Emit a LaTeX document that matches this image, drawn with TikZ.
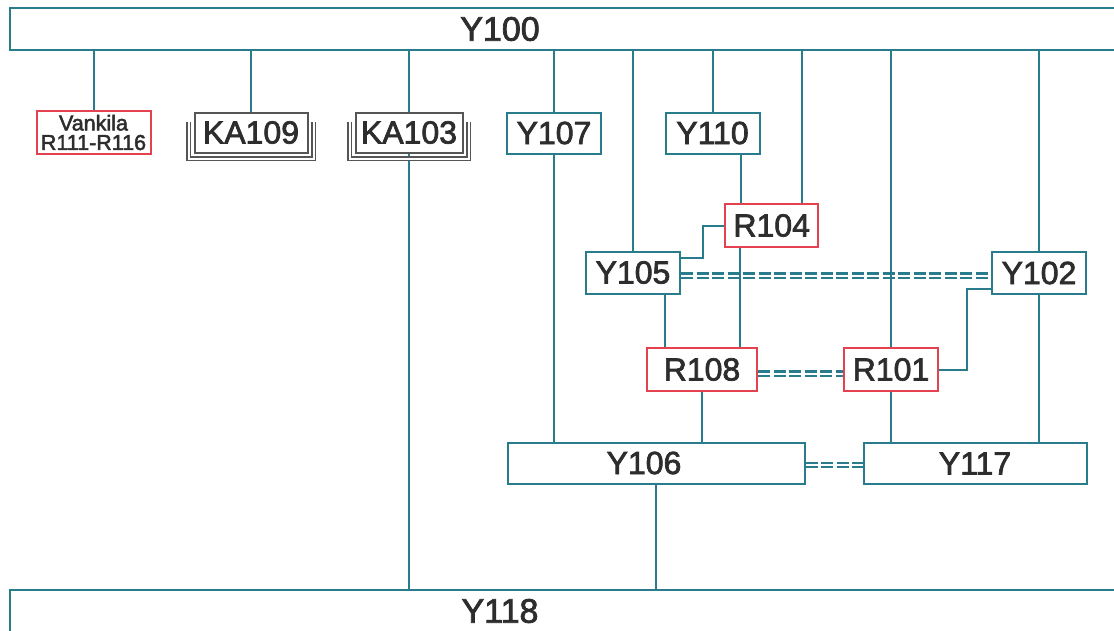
\documentclass[tikz,border=0pt]{standalone}
\usepackage{fontspec}
\setmainfont{Liberation Sans}[FakeBold=2.2]
\usetikzlibrary{calc}
\definecolor{teal1}{RGB}{40,124,140}
\definecolor{red1}{RGB}{228,66,80}
\definecolor{gray1}{RGB}{85,85,85}
\definecolor{txt}{RGB}{45,45,45}
\pgfdeclarelayer{bg}
\pgfsetlayers{bg,main}
\begin{document}
\begin{tikzpicture}[x=1pt,y=-1pt,
  conn/.style={draw=teal1,line width=2pt},
  dbl/.style={draw=teal1,line width=2.2pt,double=white,double distance=2pt,dash pattern=on 12pt off 3.5pt},
  base/.style={line width=2pt,fill=white,inner sep=0pt,text=txt,font=\fontsize{32}{32}\selectfont,minimum height=41pt},
  ybox/.style={base,draw=teal1},
  rbox/.style={base,draw=red1},
  kabox/.style={base,draw=gray1},
  bus/.style={draw=teal1,line width=2.2pt,fill=white,minimum width=1120pt,minimum height=42pt,inner sep=0pt},
  buslabel/.style={font=\fontsize{34}{34}\selectfont,text=txt,xshift=-70pt},
  bracket/.style={draw=gray1,line width=1.3pt,double=white,double distance=2pt}
]
\useasboundingbox (0,0) rectangle (1114,630);
\clip (0,0) rectangle (1114,630);

\node[bus, label={[buslabel]center:Y100}] (Y100) at (570,29) {};
\node[bus, label={[buslabel]center:Y118}] (Y118) at (570,611) {};

\node[rbox, minimum width=114pt, minimum height=43pt, align=center, font=\fontsize{21.5}{19.5}\selectfont] (VK) at (93.5,132.5) {Vankila\\R111-R116};
\node[kabox, minimum width=113pt, minimum height=40pt] (KA109) at (251,132.5) {KA109};
\node[kabox, minimum width=107pt, minimum height=40pt] (KA103) at (409,132.5) {KA103};
\draw[bracket] ($(KA109.north west)+(-5,10)$) |- ($(KA109.south)+(0,5)$) -| ($(KA109.north east)+(5,10)$);
\draw[bracket] ($(KA103.north west)+(-5,10)$) |- ($(KA103.south)+(0,5)$) -| ($(KA103.north east)+(5,10)$);

\node[ybox, minimum width=94pt] (Y107) at (554,133) {Y107};
\node[ybox, minimum width=94pt] (Y110) at (712.5,133) {Y110};
\node[rbox, minimum width=93pt, minimum height=43pt] (R104) at (771.7,225.5) {R104};
\node[ybox, minimum width=94pt, minimum height=42pt] (Y105) at (633,272.5) {Y105};
\node[ybox, minimum width=94pt, minimum height=42pt] (Y102) at (1039,273) {Y102};
\node[rbox, minimum width=110pt, minimum height=43pt] (R108) at (702,369.5) {R108};
\node[rbox, minimum width=94pt, minimum height=43pt] (R101) at (891,369.5) {R101};
\node[ybox, minimum width=297pt, minimum height=41pt] (Y106) at (656,463) {\hspace*{-24pt}Y106};
\node[ybox, minimum width=223pt, minimum height=41pt] (Y117) at (975,463.5) {Y117};

\begin{pgfonlayer}{bg}
\draw[conn] (VK.north |- Y100.south) -- (VK.north);
\draw[conn] (KA109.north |- Y100.south) -- (KA109.north);
\draw[conn] (KA103.north |- Y100.south) -- (KA103.north);
\draw[conn] (KA103.south) -- (KA103.south |- Y118.north);
\draw[conn] (Y107.north |- Y100.south) -- (Y107.north);
\draw[conn] (Y107.south) -- (Y107.south |- Y106.north);
\draw[conn] (Y105.north |- Y100.south) -- (Y105.north);
\draw[conn] (Y110.north |- Y100.south) -- (Y110.north);
\draw[conn] ([xshift=28.5pt]Y110.south) -- ([xshift=28.5pt]Y110.south |- R104.north);
\draw[conn] ([xshift=30.6pt]R104.north |- Y100.south) -- ([xshift=30.6pt]R104.north);
\draw[conn] ([yshift=15pt]Y105.east) -| ($(Y105.east)!0.5!(R104.west)$) |- (R104.west);
\draw[dbl] ([yshift=-3pt]Y105.east) -- ([yshift=-3pt]Y105.east -| Y102.west);
\draw[conn] ([xshift=-32pt]R104.south) -- ([xshift=-32pt]R104.south |- R108.north);
\draw[conn] ([xshift=32pt]Y105.south) -- ([xshift=32pt]Y105.south |- R108.north);
\draw[conn] (R108.south) -- (R108.south |- Y106.north);
\draw[dbl] ([yshift=-4pt]R108.east) -- ([yshift=-4pt]R108.east -| R101.west);
\draw[conn] (R101.north |- Y100.south) -- (R101.north);
\draw[conn] (R101.south) -- (R101.south |- Y117.north);
\draw[conn] (Y102.north |- Y100.south) -- (Y102.north);
\draw[conn] (Y102.south) -- (Y102.south |- Y117.north);
\coordinate (bend) at ($(R101.east)+(28,0)$);
\draw[conn] ([yshift=-16pt]Y102.west) -| (bend) -- (R101.east);
\draw[dbl] ([yshift=-2pt]Y106.east) -- ([yshift=-2pt]Y106.east -| Y117.west);
\draw[conn] (Y106.south) -- (Y106.south |- Y118.north);
\end{pgfonlayer}
\end{tikzpicture}
\end{document}
